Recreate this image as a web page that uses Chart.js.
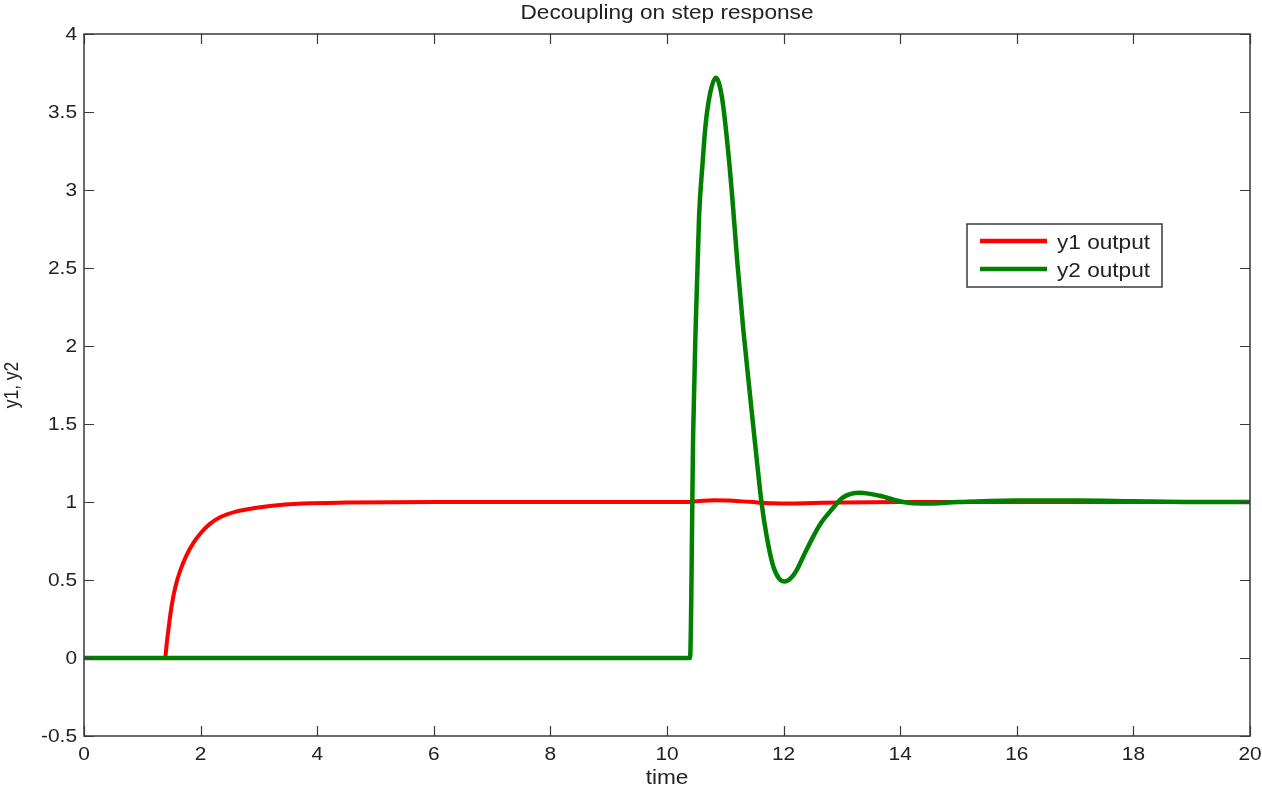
<!DOCTYPE html>
<html>
<head>
<meta charset="utf-8">
<title>Decoupling on step response</title>
<script src="https://cdn.jsdelivr.net/npm/chart.js@4.4.1/dist/chart.umd.min.js"></script>
<style>
  body { margin: 0; background: #fff; }
  canvas { display: block; }
</style>
</head>
<body>
<canvas id="stepChart" width="1262" height="790"></canvas>
<script>
// y1 output (red) sampled over time
const timeY1 = [0, 1.39, 1.42, 1.46, 1.51, 1.57, 1.65, 1.76, 1.88, 2.0, 2.16, 2.35, 2.62, 2.9, 3.19, 3.76, 4.5, 6, 8, 10.3, 10.55, 10.8, 11.05, 11.3, 11.55, 11.8, 12.1, 12.5, 13, 14, 16, 18, 20];
const valuesY1 = [0, 0, 0.1, 0.22, 0.35, 0.46, 0.56, 0.66, 0.74, 0.8, 0.86, 0.905, 0.94, 0.96, 0.975, 0.99, 0.996, 1.0, 1.0, 1.0, 1.007, 1.012, 1.01, 1.004, 0.997, 0.992, 0.99, 0.993, 0.997, 1.0, 1.0, 1.0, 1.0];

// y2 output (green)
const timeY2 = [0, 10.395, 10.45, 10.49, 10.55, 10.61, 10.66, 10.74, 10.84, 10.94, 11.03, 11.12, 11.21, 11.31, 11.42, 11.54, 11.62, 11.71, 11.82, 11.92, 12.02, 12.12, 12.22, 12.35, 12.51, 12.65, 12.8, 13.02, 13.31, 13.65, 14.05, 14.4, 15, 16, 17, 18, 19, 20];
const valuesY2 = [0, 0, 1.46, 2.1, 2.83, 3.17, 3.41, 3.62, 3.72, 3.6, 3.32, 2.95, 2.52, 2.1, 1.7, 1.27, 1.0, 0.78, 0.59, 0.51, 0.49, 0.51, 0.56, 0.66, 0.78, 0.87, 0.94, 1.03, 1.06, 1.04, 1.0, 0.99, 1.0, 1.01, 1.01, 1.005, 1.0, 1.0];

const seriesNames = ['y1 output', 'y2 output'];
const chartTitle = 'Decoupling on step response';
const xAxisTitle = 'time';
const yAxisTitle = 'y1, y2';

const xMin = 0, xMax = 20, xStep = 2;
const yMin = -0.5, yMax = 4, yStep = 0.5;

const RED = '#ff0000';
const GREEN = '#008000';
const INK = '#222';
const FRAME = '#3a3a3a';
const SX = 1.16; // text is drawn slightly wide

function toPoints(xs, ys) {
  return xs.map((x, i) => ({ x: x, y: ys[i] }));
}

function wideText(ctx, text, x, y, align, size) {
  ctx.save();
  ctx.font = size + 'px "Liberation Sans", Arial, sans-serif';
  ctx.fillStyle = INK;
  ctx.textAlign = align;
  ctx.textBaseline = 'alphabetic';
  ctx.translate(x, y);
  ctx.scale(SX, 1);
  ctx.fillText(text, 0, 0);
  ctx.restore();
}

// frame, inward ticks, labels, titles and legend box
const matlabLook = {
  id: 'matlabLook',
  afterDatasetsDraw(chart) {
    const ctx = chart.ctx;
    const area = chart.chartArea;
    const xs = chart.scales.x;
    const ys = chart.scales.y;
    const tick = 10;

    ctx.save();
    ctx.strokeStyle = FRAME;
    ctx.lineWidth = 1.5;
    ctx.strokeRect(area.left, area.top, area.right - area.left, area.bottom - area.top);

    ctx.lineWidth = 1.2;
    ctx.beginPath();
    xs.ticks.forEach(t => {
      const px = Math.round(xs.getPixelForValue(t.value)) + 0.5;
      ctx.moveTo(px, area.bottom); ctx.lineTo(px, area.bottom - tick);
      ctx.moveTo(px, area.top); ctx.lineTo(px, area.top + tick);
    });
    ys.ticks.forEach(t => {
      const py = Math.round(ys.getPixelForValue(t.value)) + 0.5;
      ctx.moveTo(area.left, py); ctx.lineTo(area.left + tick, py);
      ctx.moveTo(area.right, py); ctx.lineTo(area.right - tick, py);
    });
    ctx.stroke();
    ctx.restore();

    // tick labels
    xs.ticks.forEach(t => {
      wideText(ctx, String(t.value), xs.getPixelForValue(t.value), 760, 'center', 18);
    });
    ys.ticks.forEach(t => {
      ctx.save();
      ctx.font = '18px "Liberation Sans", Arial, sans-serif';
      ctx.fillStyle = INK;
      ctx.textAlign = 'right';
      ctx.textBaseline = 'middle';
      ctx.translate(77, ys.getPixelForValue(t.value) + 1);
      ctx.scale(SX, 1);
      ctx.fillText(String(t.value), 0, 0);
      ctx.restore();
    });

    // titles
    wideText(ctx, chartTitle, (area.left + area.right) / 2, 19, 'center', 19.5);
    wideText(ctx, xAxisTitle, (area.left + area.right) / 2, 784, 'center', 19.5);
    ctx.save();
    ctx.font = '17.5px "Liberation Sans", Arial, sans-serif';
    ctx.fillStyle = INK;
    ctx.textAlign = 'center';
    ctx.textBaseline = 'middle';
    ctx.translate(12, (area.top + area.bottom) / 2);
    ctx.rotate(-Math.PI / 2);
    ctx.scale(1, SX);
    ctx.fillText(yAxisTitle, 0, 0);
    ctx.restore();

    // legend
    const box = { x: 967, y: 224, w: 195, h: 63 };
    ctx.save();
    ctx.fillStyle = '#fff';
    ctx.fillRect(box.x, box.y, box.w, box.h);
    ctx.strokeStyle = FRAME;
    ctx.lineWidth = 1.5;
    ctx.strokeRect(box.x, box.y, box.w, box.h);
    const rows = [{ c: RED, y: 241 }, { c: GREEN, y: 269 }];
    rows.forEach((r, i) => {
      ctx.strokeStyle = r.c;
      ctx.lineWidth = 4.5;
      ctx.beginPath();
      ctx.moveTo(980, r.y);
      ctx.lineTo(1047, r.y);
      ctx.stroke();
      wideText(ctx, seriesNames[i], 1057, r.y + 8, 'left', 19.5);
    });
    ctx.restore();
  }
};

const ctx = document.getElementById('stepChart').getContext('2d');

new Chart(ctx, {
  type: 'line',
  data: {
    datasets: [
      {
        label: seriesNames[0],
        data: toPoints(timeY1, valuesY1),
        borderColor: RED,
        borderWidth: 4,
        pointRadius: 0,
        cubicInterpolationMode: 'monotone',
        fill: false,
        order: 1
      },
      {
        label: seriesNames[1],
        data: toPoints(timeY2, valuesY2),
        borderColor: GREEN,
        borderWidth: 4.5,
        pointRadius: 0,
        cubicInterpolationMode: 'monotone',
        fill: false,
        order: 0
      }
    ]
  },
  options: {
    responsive: false,
    animation: false,
    layout: { padding: { left: 0, right: 12, top: 34, bottom: 0 } },
    plugins: {
      legend: { display: false },
      title: { display: false },
      tooltip: { enabled: false }
    },
    scales: {
      x: {
        type: 'linear',
        min: xMin,
        max: xMax,
        ticks: { stepSize: xStep, display: false },
        grid: { display: false },
        border: { display: false },
        afterFit: scale => { scale.height = 54; }
      },
      y: {
        type: 'linear',
        min: yMin,
        max: yMax,
        ticks: { stepSize: yStep, display: false },
        grid: { display: false },
        border: { display: false },
        afterFit: scale => { scale.width = 84; }
      }
    }
  },
  plugins: [matlabLook]
});
</script>
</body>
</html>
